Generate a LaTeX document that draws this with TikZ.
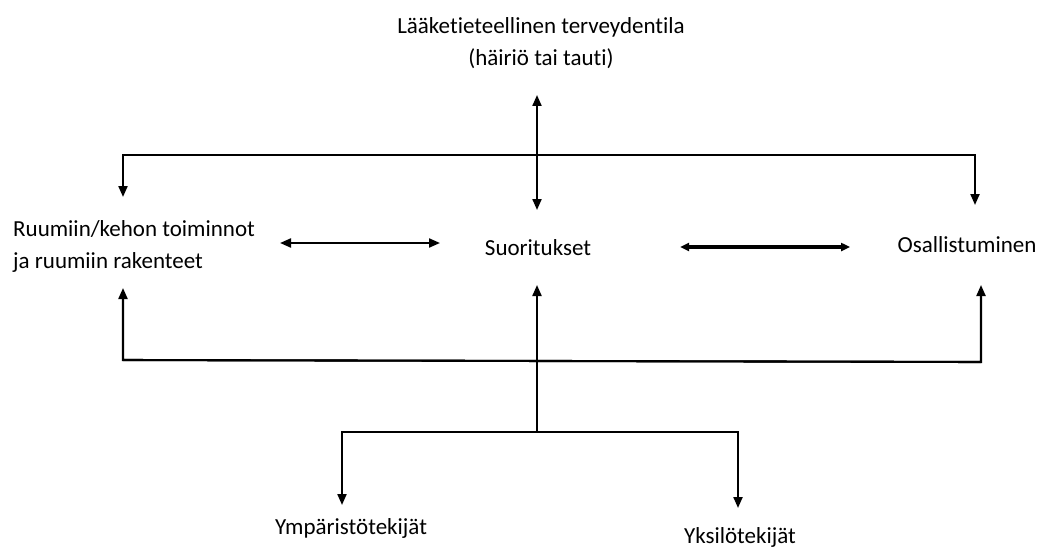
\documentclass[tikz,border=0pt]{standalone}
\usepackage{fontspec}
\setmainfont{Carlito}[Ligatures=NoCommon]
\usetikzlibrary{arrows.meta,positioning}
\tikzset{>={Triangle[length=11pt,width=9pt]},every node/.style={font=\fontsize{23}{32}\selectfont,inner sep=0pt},
 link/.style={draw,line width=2.1pt},
 thicklink/.style={draw,line width=3.4pt,>={Triangle[length=9pt,width=8pt]}},
 term/.style={align=center}}
\begin{document}
\begin{tikzpicture}[x=1pt,y=-1pt]
\useasboundingbox (0,0) rectangle (1040,548);
\node[term] (health) at (541,43) {Lääketieteellinen terveydentila\\(häiriö tai tauti)};
\node[align=left,anchor=west] (body) at (13,246) {Ruumiin/kehon toiminnot\\ja ruumiin rakenteet};
\node (act) at (538,248) {Suoritukset};
\node (part) at (967,245) {Osallistuminen};
\node (env) at (351,528) {Ympäristötekijät};
\node (pers) at (740,537) {Yksilötekijät};
% upper bar
\coordinate (upL) at (123,155);\coordinate (upR) at (975,155);
\coordinate (upLtip) at (123,197);\coordinate (upRtip) at (975,205);
\coordinate (hTip) at (537,95);\coordinate (aTip) at (537,210);
\draw[link,->] (upR) -- (upL) -- (upLtip);
\draw[link,->] (upL) -- (upR) -- (upRtip);
\draw[link,<->] (hTip) -- (aTip);
% side arrows
\coordinate (bRight) at (280,243);\coordinate (aLeft) at (440,243);
\coordinate (aRight) at (680,247);\coordinate (pLeft) at (850,247);
\draw[link,<->] (bRight) -- (aLeft);
\draw[thicklink,<->] (aRight) -- (pLeft);
% lower bar
\coordinate (loL) at (123,360);\coordinate (loC) at (537,361);\coordinate (loR) at (981,362);
\coordinate (loLtip) at (123,288);\coordinate (loCtip) at (537,285);\coordinate (loRtip) at (981,285);
\draw[link,->] (loR) -- (loL) -- (loLtip);
\draw[link,->] (loL) -- (loR) -- (loRtip);
\coordinate (fork) at (537,432);
\draw[link,->] (fork) -- (loCtip);
% factors
\coordinate (fL) at (342,432);\coordinate (fR) at (738,432);
\coordinate (fLtip) at (342,505);\coordinate (fRtip) at (738,508);
\draw[link,->] (fR) -- (fL) -- (fLtip);
\draw[link,->] (fL) -- (fR) -- (fRtip);
\end{tikzpicture}
\end{document}
